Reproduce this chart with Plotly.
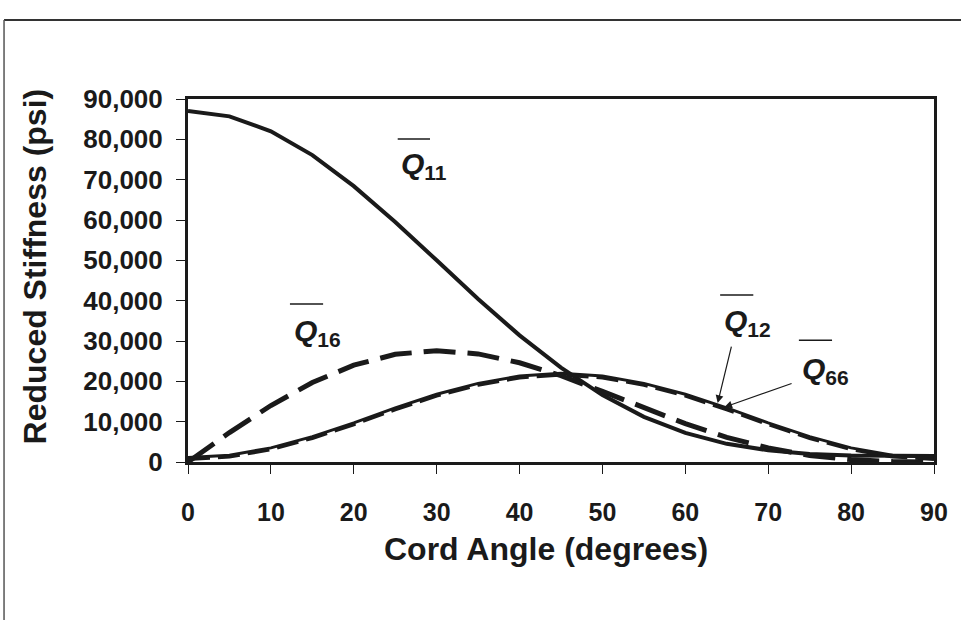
import plotly.graph_objects as go

# cord angle (degrees), read every 5 deg
angle = [0, 5, 10, 15, 20, 25, 30, 35, 40, 45, 50, 55, 60, 65, 70, 75, 80, 85, 90]

# reduced stiffness (psi)
q11 = [87000, 85700, 82000, 76100, 68400, 59500, 50000, 40400, 31400, 23400,
       16600, 11200, 7200, 4500, 2900, 2000, 1600, 1500, 1500]
q12 = [1100, 1700, 3500, 6300, 9700, 13400, 16800, 19500, 21300, 22000,
       21300, 19500, 16800, 13400, 9700, 6300, 3500, 1700, 1100]
q66 = [700, 1300, 3100, 5900, 9300, 13000, 16400, 19100, 20900, 21600,
       20900, 19100, 16400, 13000, 9300, 5900, 3100, 1300, 700]
q16 = [0, 7300, 14000, 19700, 24000, 26700, 27600, 26800, 24600, 21400,
       17500, 13400, 9500, 6100, 3500, 1600, 600, 100, 0]

y_ticks = [0, 10000, 20000, 30000, 40000, 50000, 60000, 70000, 80000, 90000]
x_ticks = [0, 10, 20, 30, 40, 50, 60, 70, 80, 90]

FONT = "Liberation Sans, Arial, sans-serif"


def q_label(sub, x, y):
    return dict(x=x, y=y, xref="x", yref="y", xanchor="left", yanchor="middle",
                text=f"<i>Q</i><sub>{sub}</sub>", showarrow=False,
                font=dict(family=FONT, size=30, color="#1a1a1a", weight="bold"))


def overline(x0, x1, y):
    return dict(type="line", xref="x", yref="y", x0=x0, x1=x1, y0=y, y1=y,
                line=dict(color="#1a1a1a", width=1.5))


def make_fig():
    fig = go.Figure()
    fig.add_trace(go.Scatter(x=angle, y=q11, mode="lines", name="Q11",
                             line=dict(color="#1a1a1a", width=4)))
    fig.add_trace(go.Scatter(x=angle, y=q12, mode="lines", name="Q12",
                             line=dict(color="#1a1a1a", width=3)))
    fig.add_trace(go.Scatter(x=angle, y=q66, mode="lines", name="Q66",
                             line=dict(color="#1a1a1a", width=3.5, dash="22px,8px")))
    fig.add_trace(go.Scatter(x=angle, y=q16, mode="lines", name="Q16",
                             line=dict(color="#1a1a1a", width=5, dash="32px,12px")))

    annotations = [
        q_label("11", 25.5, 73400),
        q_label("16", 12.5, 32000),
        q_label("12", 64.4, 34500),
        q_label("66", 73.8, 22800),
        # arrows to Q12 / Q66
        dict(x=63.9, y=14600, ax=65.6, ay=29000, xref="x", yref="y", axref="x", ayref="y",
             text="", showarrow=True, arrowhead=2, arrowsize=1.3, arrowwidth=1.2,
             arrowcolor="#1a1a1a"),
        dict(x=64.7, y=13600, ax=73.0, ay=19600, xref="x", yref="y", axref="x", ayref="y",
             text="", showarrow=True, arrowhead=2, arrowsize=1.3, arrowwidth=1.2,
             arrowcolor="#1a1a1a"),
        # axis titles
        dict(x=0.48, y=-0.24, xref="paper", yref="paper", text="Cord Angle (degrees)",
             showarrow=False, xanchor="center", yanchor="middle",
             font=dict(family=FONT, size=32, color="#1a1a1a", weight="bold")),
        dict(x=-0.205, y=0.539, xref="paper", yref="paper", text="Reduced Stiffness (psi)",
             showarrow=False, textangle=-90, xanchor="center", yanchor="middle",
             font=dict(family=FONT, size=32, color="#1a1a1a", weight="bold")),
    ]

    shapes = [
        overline(25.3, 29.2, 80100),
        overline(12.3, 16.3, 39200),
        overline(64.2, 68.2, 41400),
        overline(73.7, 77.7, 30200),
        # outer frame of the page figure
        dict(type="line", xref="paper", yref="paper", x0=-0.2466, x1=1.2, y0=1.2176, y1=1.2176,
             line=dict(color="#333333", width=2)),
        dict(type="line", xref="paper", yref="paper", x0=-0.2466, x1=-0.2466, y0=1.2176, y1=-0.6,
             line=dict(color="#555555", width=1.5)),
    ]

    fig.update_layout(
        width=961, height=620,
        margin=dict(l=188, r=27, t=99, b=158),
        paper_bgcolor="white", plot_bgcolor="white",
        showlegend=False,
        separators=".,",
        annotations=annotations,
        shapes=shapes,
    )
    fig.update_xaxes(range=[0, 90], tickvals=x_ticks, showgrid=False, zeroline=False,
                     showline=True, linecolor="#1a1a1a", linewidth=3, mirror=True,
                     ticks="outside", ticklen=9, tickwidth=1, tickcolor="#1a1a1a",
                     ticklabelstandoff=17,
                     tickfont=dict(family=FONT, size=25, color="#1a1a1a", weight="bold"))
    fig.update_yaxes(range=[0, 90000], tickvals=y_ticks, tickformat=",d", showgrid=False,
                     zeroline=False, showline=True, linecolor="#1a1a1a", linewidth=3,
                     mirror=True, ticks="outside", ticklen=9, tickwidth=1, tickcolor="#1a1a1a",
                     ticklabelstandoff=8,
                     tickfont=dict(family=FONT, size=26, color="#1a1a1a", weight="bold"))
    return fig


if __name__ == "__main__":
    fig = make_fig()
    # drop the default page margin so the figure sits at the window corner
    fig.write_html("out.html", config={"displayModeBar": False},
                   post_script="document.body.style.margin='0';document.body.style.overflow='hidden';")
